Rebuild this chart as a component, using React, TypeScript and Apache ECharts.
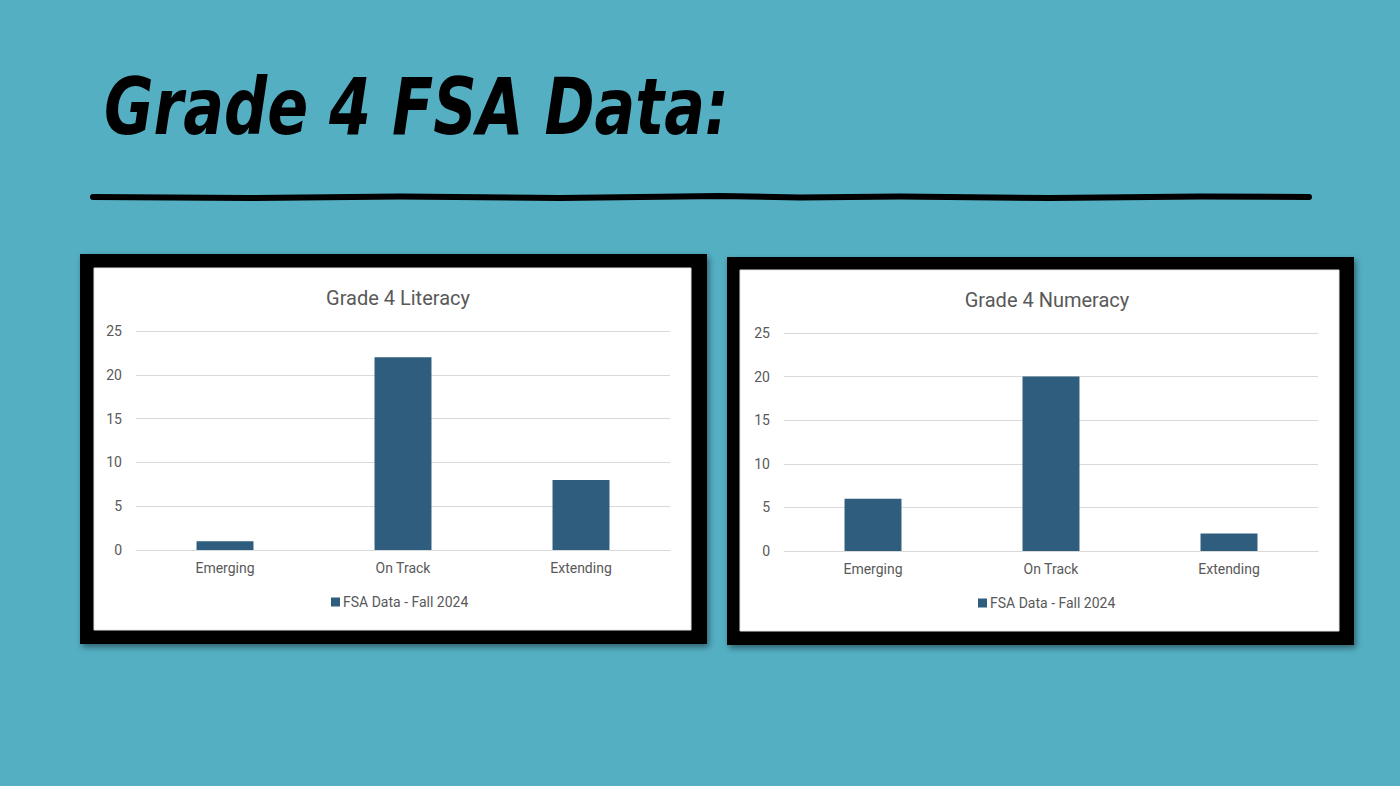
import React, { useEffect, useRef } from "react";
import * as echarts from "echarts";

const pageTitle = "Grade 4 FSA Data:";
const categories = ["Emerging", "On Track", "Extending"];
const seriesName = "FSA Data - Fall 2024";
const literacyTitle = "Grade 4 Literacy";
const literacyValues = [1, 22, 8];
const numeracyTitle = "Grade 4 Numeracy";
const numeracyValues = [6, 20, 2];
const yTicks = { min: 0, max: 25, interval: 5 };

const BG = "#54AFC3";
const BAR = "#2E5D7E";
const TXT = "#595959";
const GRID = "#D9D9D9";
const FONT = "Roboto, 'Open Sans', sans-serif";

export default function App() {
  const ref = useRef<HTMLDivElement>(null);
  useEffect(() => {
    if (!ref.current) return;
    const chart = echarts.init(ref.current, undefined, { renderer: "svg" });

    const frame = (x: number, y: number, w: number, h: number, ix: number, iy: number, iw: number, ih: number) => [
      {
        type: "rect",
        shape: { x, y, width: w, height: h },
        style: { fill: "#000", shadowBlur: 6, shadowColor: "rgba(0,0,0,0.45)", shadowOffsetX: 2, shadowOffsetY: 3 },
        z: -10,
      },
      {
        type: "rect",
        shape: { x: ix, y: iy, width: iw, height: ih },
        style: { fill: "#fff", stroke: "#E4E4E4", lineWidth: 1 },
        z: -9,
      },
    ];

    const yAxisCommon = {
      type: "value",
      ...yTicks,
      axisLine: { show: false },
      axisTick: { show: false },
      axisLabel: { color: TXT, fontSize: 14, fontFamily: FONT, margin: 14 },
      splitLine: { lineStyle: { color: GRID, width: 1 } },
    };
    const xAxisCommon = {
      type: "category",
      data: categories,
      axisLine: { lineStyle: { color: GRID, width: 1 } },
      axisTick: { show: false },
      axisLabel: { color: TXT, fontSize: 14, fontFamily: FONT, margin: 11 },
    };
    const legendCommon = {
      data: [seriesName],
      icon: "rect",
      itemWidth: 9,
      itemHeight: 9,
      itemGap: 4,
      textStyle: { color: TXT, fontSize: 14, fontFamily: FONT, padding: [0, 0, 0, -2] },
    };

    chart.setOption({
      animation: false,
      backgroundColor: BG,
      graphic: [
        ...frame(80, 254, 627, 390, 94, 268, 597, 362),
        ...frame(727, 257, 627, 388, 740, 270, 599, 361),
        {
          type: "text",
          x: 104,
          y: 68,
          scaleX: 0.86,
          style: {
            text: pageTitle,
            fill: "#000",
            font: "italic bold 78px 'DejaVu Sans Condensed', 'DejaVu Sans', sans-serif",
          },
        },
        {
          type: "polyline",
          shape: {
            points: [
              [93, 197], [250, 198], [400, 196.5], [560, 198], [720, 196], [800, 197.5],
              [900, 196.5], [1050, 198], [1200, 196.5], [1309, 197],
            ],
          },
          style: { stroke: "#000", lineWidth: 6, lineCap: "round", fill: "none" },
        },
      ],
      title: [
        {
          text: literacyTitle,
          left: 393,
          top: 283,
          textAlign: "center",
          textStyle: { color: TXT, fontSize: 20, fontWeight: "normal", fontFamily: FONT },
        },
        {
          text: numeracyTitle,
          left: 1042,
          top: 285,
          textAlign: "center",
          textStyle: { color: TXT, fontSize: 20, fontWeight: "normal", fontFamily: FONT },
        },
      ],
      legend: [
        { ...legendCommon, left: 326, top: 590 },
        { ...legendCommon, left: 973, top: 591 },
      ],
      grid: [
        { left: 136, right: 730, top: 331, bottom: 236, containLabel: false },
        { left: 784, right: 82, top: 333, bottom: 235, containLabel: false },
      ],
      xAxis: [
        { ...xAxisCommon, gridIndex: 0 },
        { ...xAxisCommon, gridIndex: 1 },
      ],
      yAxis: [
        { ...yAxisCommon, gridIndex: 0 },
        { ...yAxisCommon, gridIndex: 1 },
      ],
      series: [
        {
          name: seriesName,
          type: "bar",
          xAxisIndex: 0,
          yAxisIndex: 0,
          data: literacyValues,
          barWidth: "32%",
          itemStyle: { color: BAR },
        },
        {
          name: seriesName,
          type: "bar",
          xAxisIndex: 1,
          yAxisIndex: 1,
          data: numeracyValues,
          barWidth: "32%",
          itemStyle: { color: BAR },
        },
      ],
    });
    return () => chart.dispose();
  }, []);
  return (
    <div
      ref={ref}
      style={{ position: "fixed", left: 0, top: 0, width: 1400, height: 786 }}
    />
  );
}
